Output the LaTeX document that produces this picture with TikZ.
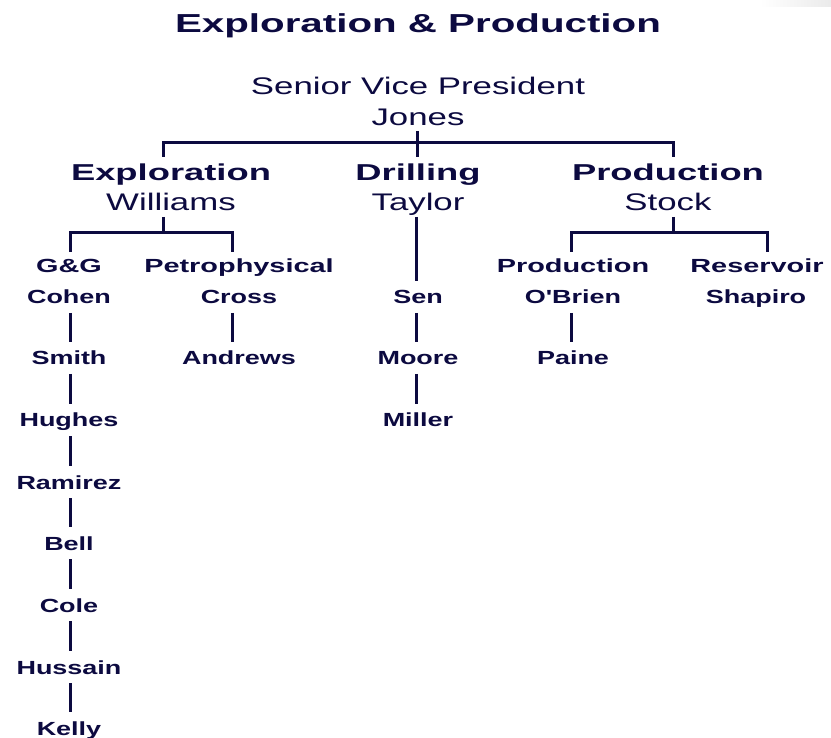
\documentclass[tikz,border=0pt]{standalone}
\usepackage{fontspec}
\setmainfont{Liberation Sans}
\usepackage{graphicx}
\definecolor{navy}{RGB}{12,10,64}
\newcommand\TitleTxt[1]{\scalebox{1.55}[1]{\fontsize{26}{26}\selectfont\bfseries #1}}
\newcommand\BigTxt[1]{\scalebox{1.45}[1]{\fontsize{24}{24}\selectfont #1}}
\newcommand\BigHead[1]{\scalebox{1.58}[1]{\fontsize{23}{23}\selectfont\bfseries #1}}
\newcommand\SmHead[1]{\scalebox{1.52}[1]{\fontsize{19}{19}\selectfont\bfseries #1}}
\newcommand\SmTxt[1]{\scalebox{1.42}[1]{\fontsize{19}{19}\selectfont\bfseries #1}}
\begin{document}
\begin{tikzpicture}[x=1pt,y=-1pt,
  every node/.style={inner sep=0pt,outer sep=0pt,text=navy},
  titlebox/.style={text height=19pt,text depth=0pt},
  topbox/.style={minimum height=28pt,text height=17pt,text depth=0pt},
  midbox/.style={minimum height=30pt,text height=17pt,text depth=0pt},
  headbox/.style={minimum height=28pt,text height=14pt,text depth=0pt},
  namebox/.style={minimum height=32pt,text height=14pt,text depth=0pt},
  conn/.style={draw=navy,line width=3pt,line join=miter}]
\fill[white] (0,0) rectangle (831,738);
\useasboundingbox (0,0) rectangle (831,738);
\shade[left color=white,right color=black!8] (760,0) rectangle (831,7);

% title and top
\node[titlebox] (title) at (418,23.5) {\TitleTxt{Exploration \& Production}};
\node[topbox] (svp) at (418,86) {\BigTxt{Senior Vice President}};
\node[topbox] (jones) at (418,117) {\BigTxt{Jones}};

% level 2
\node[midbox] (expl) at (171,172) {\BigHead{Exploration}};
\node[midbox] (will) at (171,202) {\BigTxt{Williams}};
\node[midbox] (drill) at (418,172) {\BigHead{Drilling}};
\node[midbox] (taylor) at (418,202) {\BigTxt{Taylor}};
\node[midbox] (prodn) at (668,172) {\BigHead{Production}};
\node[midbox] (stock) at (668,202) {\BigTxt{Stock}};

% level 3 headings
\node[headbox] (gg) at (69,266) {\SmHead{G\&G}};
\node[headbox] (petro) at (239,266) {\SmHead{Petrophysical}};
\node[headbox] (subprod) at (573,266) {\SmHead{Production}};
\node[headbox] (res) at (757,266) {\SmHead{Reservoir}};

% names
\node[namebox] (cohen) at (69,297) {\SmTxt{Cohen}};
\node[namebox] (smith) at (69,358) {\SmTxt{Smith}};
\node[namebox] (hughes) at (69,420) {\SmTxt{Hughes}};
\node[namebox] (ramirez) at (69,482) {\SmTxt{Ramirez}};
\node[namebox] (bell) at (69,543) {\SmTxt{Bell}};
\node[namebox] (cole) at (69,605) {\SmTxt{Cole}};
\node[namebox] (hussain) at (69,667) {\SmTxt{Hussain}};
\node[namebox] (kelly) at (69,728) {\SmTxt{Kelly}};
\node[namebox] (cross) at (239,297) {\SmTxt{Cross}};
\node[namebox] (andrews) at (239,358) {\SmTxt{Andrews}};
\node[namebox] (sen) at (418,297) {\SmTxt{Sen}};
\node[namebox] (moore) at (418,358) {\SmTxt{Moore}};
\node[namebox] (miller) at (418,420) {\SmTxt{Miller}};
\node[namebox] (obrien) at (573,297) {\SmTxt{O\textquotesingle Brien}};
\node[namebox] (paine) at (573,358) {\SmTxt{Paine}};
\node[namebox] (shapiro) at (756,297) {\SmTxt{Shapiro}};

% top bracket
\coordinate (tm) at (417,143);
\coordinate (tl) at (163,143);
\coordinate (tr) at (673,143);
\draw[conn] (jones.south -| tm) -- (drill.north -| tm);
\draw[conn] (expl.north -| tl) -- (tl) -- (tr) -- (prodn.north -| tr);

% exploration bracket
\coordinate (em) at (163,233);
\coordinate (el) at (70,233);
\coordinate (er) at (232,233);
\draw[conn] (will.south -| em) -- (em);
\draw[conn] (gg.north -| el) -- (el) -- (er) -- (petro.north -| er);

% production bracket
\coordinate (pm) at (673,233);
\coordinate (pl) at (571,233);
\coordinate (pr) at (767,233);
\draw[conn] (stock.south -| pm) -- (pm);
\draw[conn] (subprod.north -| pl) -- (pl) -- (pr) -- (res.north -| pr);

% drilling column
\coordinate (dc) at (416,0);
\draw[conn] (taylor.south -| dc) -- (sen.north -| dc);
\draw[conn] (sen.south -| dc) -- (moore.north -| dc);
\draw[conn] (moore.south -| dc) -- (miller.north -| dc);

% G&G column
\coordinate (gc) at (70,0);
\draw[conn] (cohen.south -| gc) -- (smith.north -| gc);
\draw[conn] (smith.south -| gc) -- (hughes.north -| gc);
\draw[conn] (hughes.south -| gc) -- (ramirez.north -| gc);
\draw[conn] (ramirez.south -| gc) -- (bell.north -| gc);
\draw[conn] (bell.south -| gc) -- (cole.north -| gc);
\draw[conn] (cole.south -| gc) -- (hussain.north -| gc);
\draw[conn] (hussain.south -| gc) -- (kelly.north -| gc);

% petrophysical and production columns
\draw[conn] (cross.south -| er) -- (andrews.north -| er);
\draw[conn] (obrien.south -| pl) -- (paine.north -| pl);
\end{tikzpicture}
\end{document}
